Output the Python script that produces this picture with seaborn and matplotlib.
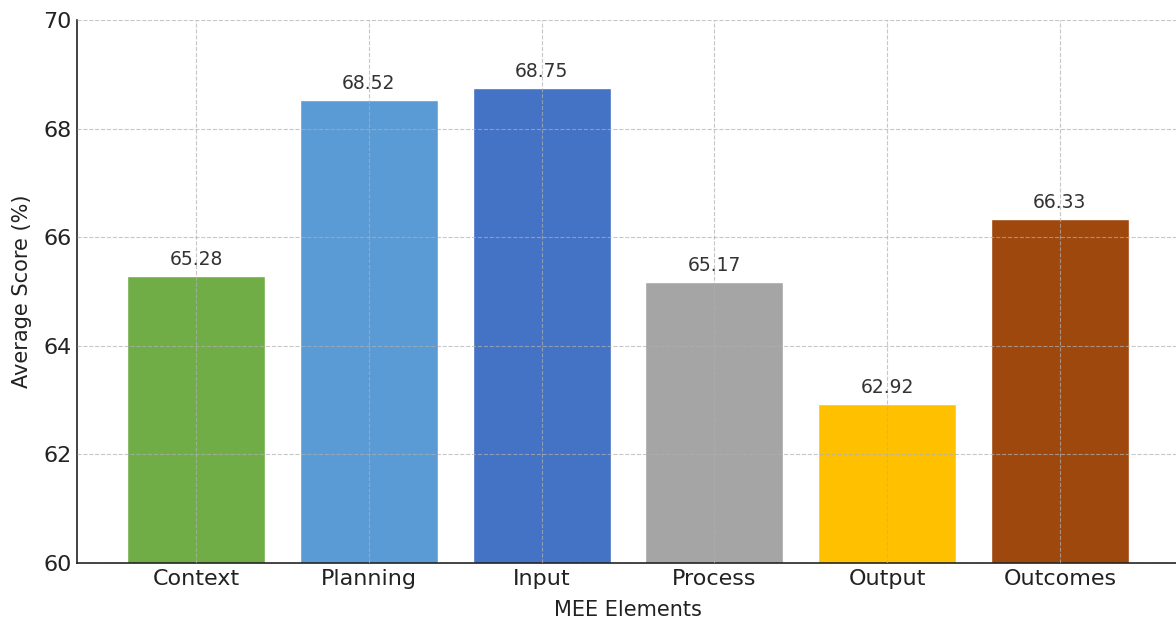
import matplotlib
matplotlib.use("Agg")
import matplotlib.pyplot as plt
import seaborn as sns
import pandas as pd

categories = ["Context", "Planning", "Input", "Process", "Output", "Outcomes"]
scores = [65.28, 68.52, 68.75, 65.17, 62.92, 66.33]
colors = ["#70AD47", "#5B9BD5", "#4472C4", "#A5A5A5", "#FFC000", "#9E480E"]
yticks = [60, 62, 64, 66, 68, 70]
title = "MEE Element Average Scores"

sns.set_style("white")
plt.rcParams["font.family"] = ["DejaVu Sans"]

df = pd.DataFrame({"Element": categories, "Score": scores})

fig = plt.figure(figsize=(11.76, 6.19), dpi=100)
ax = fig.add_axes([77 / 1176, 56 / 619, 1102 / 1176, 543 / 619])

sns.barplot(data=df, x="Element", y="Score", hue="Element", palette=colors,
            order=categories, hue_order=categories, width=0.8, saturation=1,
            legend=False, ax=ax)

ax.set_ylim(60, 70)
ax.set_xlim(-0.69, 5.69)
ax.set_yticks(yticks)
ax.set_yticklabels([str(t) for t in yticks])

for i, v in enumerate(scores):
    ax.annotate(f"{v:.2f}", (i, v), xytext=(0, 5), textcoords="offset points",
                ha="center", va="bottom", fontsize=13.5, color="#333333")

ax.grid(True, linestyle="--", color="#b0b0b0", alpha=0.7, linewidth=0.8)
ax.set_axisbelow(False)

for s in ["top", "right"]:
    ax.spines[s].set_visible(False)
for s in ["left", "bottom"]:
    ax.spines[s].set_color("#222222")
    ax.spines[s].set_linewidth(1.2)

ax.tick_params(axis="both", direction="in", length=5, width=1, colors="#222222",
               labelsize=16, labelcolor="#222222", pad=4)
ax.set_xlabel("MEE Elements", fontsize=15, color="#222222", labelpad=8)
ax.set_ylabel("Average Score (%)", fontsize=15, color="#222222", labelpad=8)

# title sits mostly above the visible canvas, as in the reference crop
fig.text(0.5 * (77 + 1179) / 1176, 1 + 4 / 619, title, fontsize=16,
         fontweight="bold", ha="center", va="baseline", color="#222222")

fig.savefig("out.png", dpi=100)
